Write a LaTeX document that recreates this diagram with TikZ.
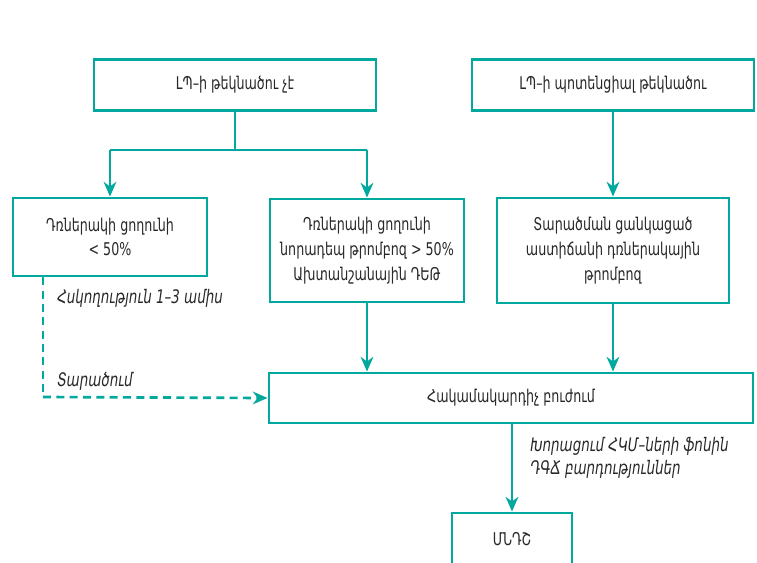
\documentclass[tikz,border=0pt]{standalone}
\usepackage{fontspec}
\setmainfont{DejaVu Sans}[FakeStretch=0.72]
\usetikzlibrary{arrows.meta}
\definecolor{tealc}{RGB}{0,168,157}
\definecolor{txt}{RGB}{40,40,40}
\begin{document}
\begin{tikzpicture}[x=0.75pt,y=-0.75pt,
  box/.style={draw=tealc, line width=2.2pt, fill=white, align=center, text=txt,
    font=\fontsize{13.2}{18.8}\selectfont, inner sep=0pt},
  conn/.style={draw=tealc, line width=2pt},
  arr/.style={conn, -{Stealth[length=11pt,width=9.5pt,inset=3.5pt]}},
  lab/.style={text=txt, font=\fontsize{14}{17.5}\selectfont\itshape, anchor=west, align=left, inner sep=0pt}]
\useasboundingbox (0,0) rectangle (757,562);
\clip (0,0) rectangle (757,562);

\node[box, minimum width=282*0.75pt, minimum height=51*0.75pt] (a) at (235,85) {ԼՊ–ի թեկնածու չէ};
\node[box, minimum width=282*0.75pt, minimum height=51*0.75pt] (b) at (613,85) {ԼՊ–ի պոտենցիալ թեկնածու};
\node[box, minimum width=194*0.75pt, minimum height=78*0.75pt] (c) at (110,237) {Դռներակի ցողունի\\[-1pt]< 50\%};
\node[box, minimum width=194*0.75pt, minimum height=103*0.75pt] (d) at (367,250.5) {Դռներակի ցողունի\\նորադեպ թրոմբոզ > 50\%\\Ախտանշանային ԴԵԹ};
\node[box, minimum width=232*0.75pt, minimum height=105*0.75pt] (e) at (613,250.5) {Տարածման ցանկացած\\աստիճանի դռներակային\\թրոմբոզ};
\node[box, minimum width=484*0.75pt, minimum height=50*0.75pt] (f) at (511,398) {Հակամակարդիչ բուժում};
\node[box, minimum width=120*0.75pt, minimum height=70*0.75pt, text depth=0pt] (g) at (512,548) {};
\node[text=txt, font=\fontsize{13.2}{18.8}\selectfont, inner sep=0pt] (gt) at (512,539) {ՄՆԴՇ};

\coordinate (j) at (235,150);
\coordinate (jl) at (110,150);
\coordinate (jr) at (367,150);
\coordinate (dc) at (43,397);

\draw[conn] (a.south) -- (j);
\draw[conn] (jl) -- (jr);
\draw[arr] (jl) -- (c.north);
\draw[arr] (jr) -- (d.north);
\draw[arr] (b.south) -- (e.north);
\draw[arr] (d.south) -- (d.south |- f.north);
\draw[arr] (e.south) -- (e.south |- f.north);
\draw[arr] (f.south -| g.north) -- (g.north);
\draw[conn, dash pattern=on 6pt off 4pt] (c.south -| dc) -- (dc);
\draw[arr, dash pattern=on 6pt off 4pt] (dc) -- (f.west);

\node[lab] (l1) at (57,298) {Հսկողություն 1–3 ամիս};
\node[lab] (l2) at (57,381) {Տարածում};
\node[lab] (l3) at (530,458) {Խորացում ՀԿՄ–ների ֆոնին\\ԴԳՃ բարդություններ};
\end{tikzpicture}
\end{document}
